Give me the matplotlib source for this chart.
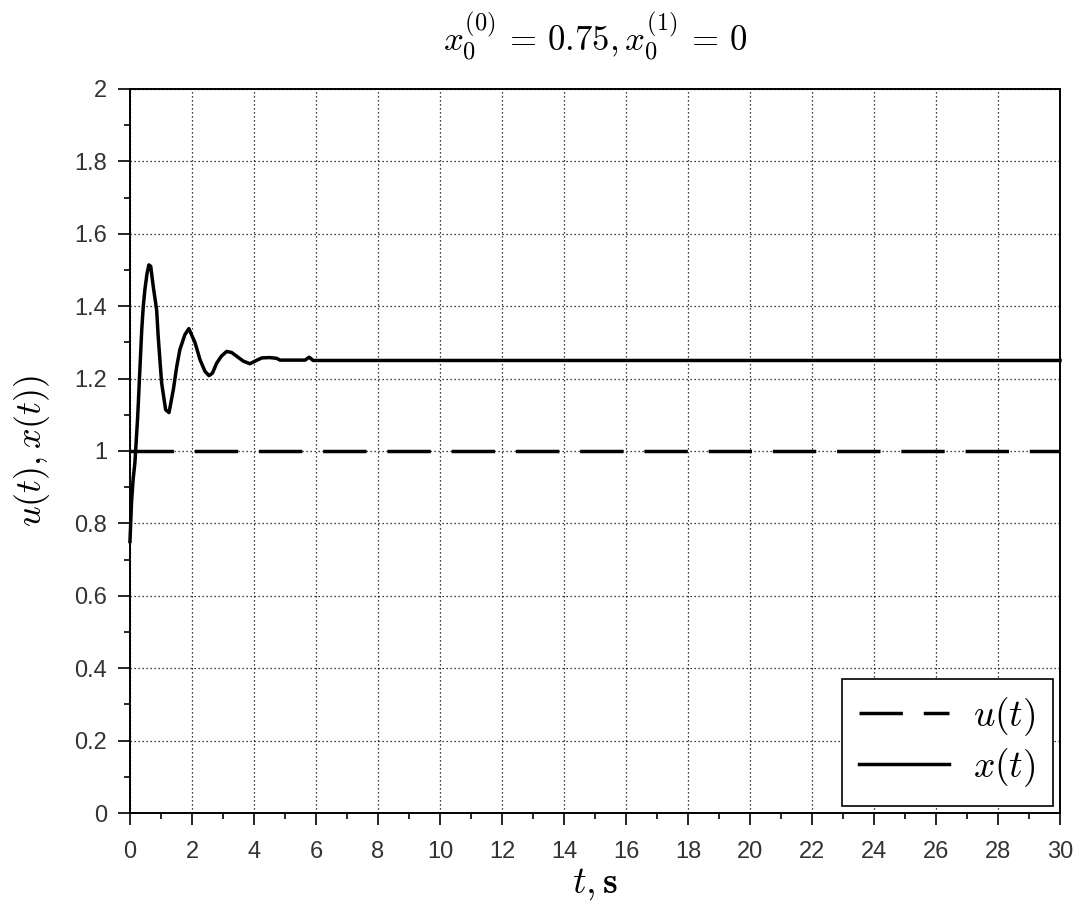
import matplotlib
matplotlib.use("Agg")
import matplotlib.pyplot as plt
from matplotlib.ticker import MultipleLocator

plt.rcParams['mathtext.fontset'] = 'cm'
plt.rcParams['font.family'] = ['Liberation Sans', 'DejaVu Sans']

# Data
t_x = [0.0, 0.05, 0.10, 0.16, 0.25, 0.32, 0.38, 0.43, 0.48, 0.55, 0.61, 0.67,
       0.75, 0.86, 0.91, 1.02, 1.15, 1.26, 1.40, 1.51, 1.61, 1.77, 1.90,
       2.10, 2.26, 2.42, 2.55, 2.66, 2.80, 2.95, 3.12, 3.28, 3.50, 3.66,
       3.87, 4.03, 4.25, 4.50, 4.73, 4.84, 5.65, 5.78, 5.91, 30.0]
x_vals = [0.75, 0.857, 0.92, 0.968, 1.096, 1.225, 1.335, 1.40, 1.445, 1.49, 1.514, 1.51,
          1.455, 1.39, 1.317, 1.189, 1.114, 1.106, 1.17, 1.234, 1.28, 1.321, 1.338,
          1.299, 1.252, 1.220, 1.208, 1.215, 1.243, 1.262, 1.275, 1.272, 1.258, 1.248,
          1.241, 1.248, 1.257, 1.258, 1.256, 1.251, 1.251, 1.259, 1.25, 1.25]
t_u = [0.0, 30.0]
u_vals = [1.0, 1.0]

title = r'$x_0^{(0)}\,=\,0.75, x_0^{(1)}\,=\,0$'
xlabel = r'$t, \mathbf{s}$'
ylabel = r'$u(t), x(t))$'

fig = plt.figure(figsize=(10.83, 9.17), dpi=100)
ax = fig.add_axes([0.12, 0.1134, 0.8588, 0.7896])

ax.plot(t_u, u_vals, color='black', lw=2.5, dashes=(12.5, 6), label=r'$u(t)$', zorder=3)
ax.plot(t_x, x_vals, color='black', lw=2.5, label=r'$x(t)$', zorder=4, clip_on=False)

ax.set_xlim(0, 30)
ax.set_ylim(0, 2)
ax.xaxis.set_major_locator(MultipleLocator(2))
ax.xaxis.set_minor_locator(MultipleLocator(1))
ax.yaxis.set_minor_locator(MultipleLocator(0.1))
ax.set_yticks([0, 0.2, 0.4, 0.6, 0.8, 1, 1.2, 1.4, 1.6, 1.8, 2])
ax.set_yticklabels(['0', '0.2', '0.4', '0.6', '0.8', '1', '1.2', '1.4', '1.6', '1.8', '2'])

ax.grid(True, which='major', color='black', lw=0.9, linestyle=(0, (1, 2.2)))
ax.tick_params(which='major', direction='out', length=8.5, width=1.2, labelsize=17,
               top=False, right=False, labelcolor='#333333')
ax.tick_params(axis='x', which='major', pad=12)
ax.tick_params(axis='y', which='major', pad=8)
ax.tick_params(which='minor', direction='out', length=4.3, width=1.2, top=False, right=False)
for s in ax.spines.values():
    s.set_linewidth(1.4)

ax.set_title(title, fontsize=25, pad=27)
ax.set_xlabel(xlabel, fontsize=27, labelpad=2)
ax.set_ylabel(ylabel, fontsize=26, labelpad=16)

leg = ax.legend(loc='lower right', fontsize=27, frameon=True, fancybox=False,
                edgecolor='black', framealpha=1, handlelength=2.4, borderpad=0.45,
                labelspacing=0.2, handletextpad=0.65, borderaxespad=0.2)
leg.get_frame().set_linewidth(1.2)

fig.savefig('out.png', dpi=100)
